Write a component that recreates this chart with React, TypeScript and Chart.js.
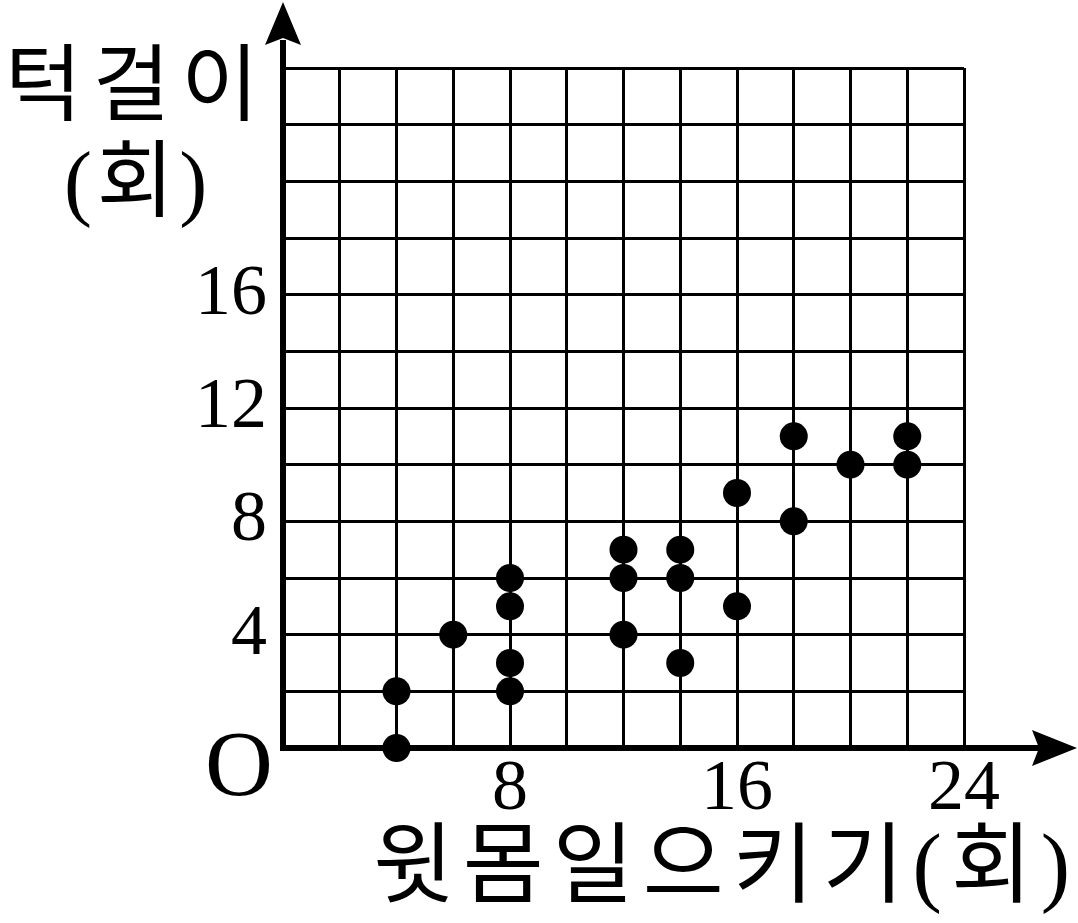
import { useEffect, useRef } from 'react';
import { Chart, registerables } from 'chart.js';

Chart.register(...registerables);

// 윗몸일으키기 (x) and 턱걸이 (y) counts per student
const sitUps = [4, 4, 6, 8, 8, 8, 8, 12, 12, 12, 14, 14, 14, 16, 16, 18, 18, 20, 22, 22];
const pullUps = [0, 2, 4, 2, 3, 5, 6, 4, 6, 7, 3, 6, 7, 5, 9, 8, 11, 10, 10, 11];
const xTickLabels = [8, 16, 24];
const yTickLabels = [4, 8, 12, 16];
const xAxisTitle = '윗몸일으키기(회)';
const yAxisTitleLines = ['턱걸이', '(회)'];
const originLabel = 'O';

const SERIF_KR = '"Liberation Serif", "Noto Sans CJK KR"';

const axesPlugin = {
  id: 'axesArrows',
  beforeDatasetsDraw(chart: any) {
    const { ctx, chartArea: a } = chart;
    const x0 = chart.scales.x.getPixelForValue(0);
    const y0 = chart.scales.y.getPixelForValue(0);
    ctx.save();
    ctx.strokeStyle = '#000';
    ctx.fillStyle = '#000';
    ctx.lineWidth = 6;
    ctx.beginPath();
    ctx.moveTo(x0, y0 + 3);
    ctx.lineTo(x0, 40);
    ctx.moveTo(x0 - 3, y0);
    ctx.lineTo(a.right + 75, y0);
    ctx.stroke();
    // y arrow head
    ctx.beginPath();
    ctx.moveTo(x0, 2);
    ctx.lineTo(x0 + 18, 45);
    ctx.lineTo(x0, 38);
    ctx.lineTo(x0 - 18, 45);
    ctx.closePath();
    ctx.fill();
    // x arrow head
    const tip = a.right + 113;
    ctx.beginPath();
    ctx.moveTo(tip, y0);
    ctx.lineTo(tip - 45, y0 - 18);
    ctx.lineTo(tip - 38, y0);
    ctx.lineTo(tip - 45, y0 + 18);
    ctx.closePath();
    ctx.fill();
    ctx.restore();
  },
  afterDraw(chart: any) {
    const { ctx, chartArea: a } = chart;
    ctx.save();
    ctx.fillStyle = '#000';
    ctx.textAlign = 'center';
    ctx.textBaseline = 'alphabetic';
    ctx.font = '94px "Liberation Serif"';
    ctx.fillText(originLabel, a.left - 44, a.bottom + 47);

    ctx.textBaseline = 'middle';
    ctx.font = `84px ${SERIF_KR}`;
    (ctx as any).letterSpacing = '11px';
    ctx.fillText(yAxisTitleLines[0], 132 + 5, 92);
    (ctx as any).letterSpacing = '5px';
    ctx.fillText(yAxisTitleLines[1], 136 + 2, 188);

    ctx.font = `88px ${SERIF_KR}`;
    (ctx as any).letterSpacing = '9px';
    ctx.fillText(xAxisTitle, 722 + 4, 872);
    ctx.restore();
  },
};

export default function App() {
  const ref = useRef<HTMLCanvasElement>(null);

  useEffect(() => {
    if (!ref.current) return;
    const chart = new Chart(ref.current, {
      type: 'scatter',
      data: {
        datasets: [
          {
            data: sitUps.map((x, i) => ({ x, y: pullUps[i] })),
            backgroundColor: '#000',
            borderColor: '#000',
            borderWidth: 0,
            pointRadius: 14,
            pointHoverRadius: 14,
            clip: false as any,
          },
        ],
      },
      options: {
        responsive: false,
        animation: false,
        events: [],
        layout: { padding: { top: 68, right: 114, left: 0, bottom: 0 } },
        plugins: { legend: { display: false }, tooltip: { enabled: false } },
        scales: {
          x: {
            type: 'linear',
            min: 0,
            max: 24,
            afterFit: (s: any) => {
              s.height = 175;
            },
            border: { display: false },
            grid: { color: '#000', lineWidth: 3, drawTicks: false },
            ticks: {
              stepSize: 2,
              autoSkip: false,
              maxRotation: 0,
              minRotation: 0,
              padding: 6,
              color: '#000',
              font: { family: 'Liberation Serif', size: 72, lineHeight: 1 },
              callback: (v: any) => (xTickLabels.includes(Number(v)) ? String(v) : ''),
            },
          },
          y: {
            type: 'linear',
            min: 0,
            max: 24,
            afterFit: (s: any) => {
              s.width = 283;
            },
            border: { display: false },
            grid: { color: '#000', lineWidth: 3, drawTicks: false },
            ticks: {
              stepSize: 2,
              autoSkip: false,
              padding: 16,
              color: '#000',
              font: { family: 'Liberation Serif', size: 72, lineHeight: 1 },
              callback: (v: any) => (yTickLabels.includes(Number(v)) ? String(v) : ''),
            },
          },
        },
      },
      plugins: [axesPlugin],
    });
    return () => chart.destroy();
  }, []);

  return (
    <div style={{ position: 'absolute', left: 0, top: 0, width: 1078, height: 923, background: '#fff' }}>
      <canvas ref={ref} width={1078} height={923} style={{ display: 'block' }} />
    </div>
  );
}
